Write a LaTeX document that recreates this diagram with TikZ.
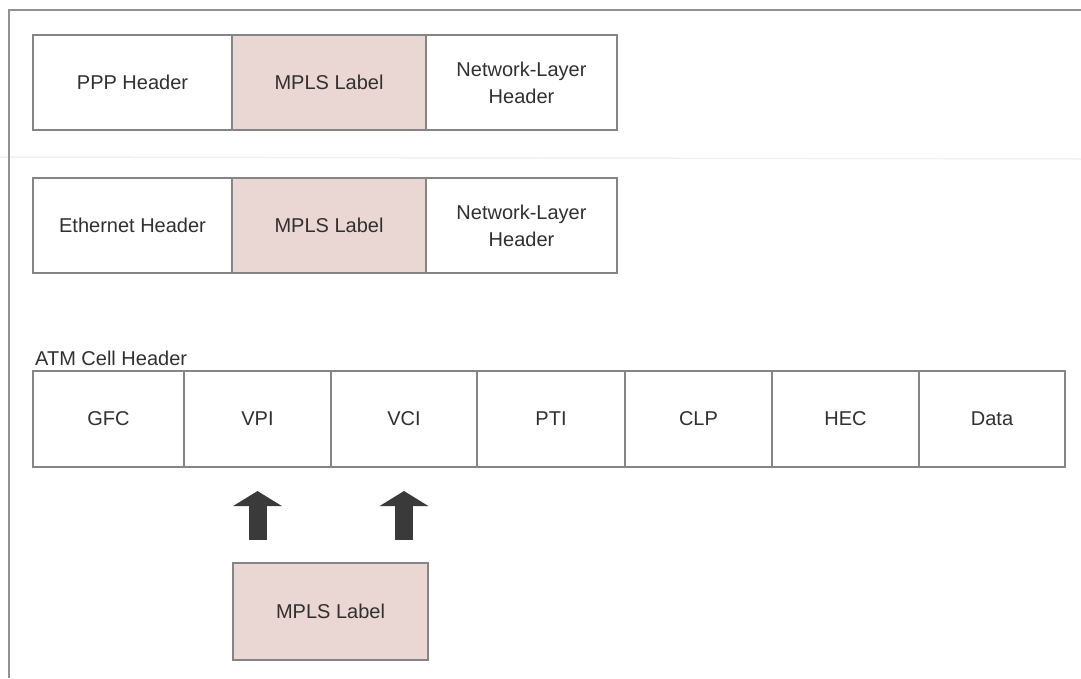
\documentclass[tikz,border=0pt]{standalone}
\usepackage{fontspec}
\setmainfont{Liberation Sans}
\usetikzlibrary{arrows.meta,positioning}
\definecolor{labelpink}{HTML}{EAD7D3}
\definecolor{edgegray}{HTML}{858585}
\definecolor{inkgray}{HTML}{303030}
\definecolor{arrowgray}{HTML}{3A3A3A}
\tikzset{
  field/.style={draw=edgegray, line width=1.1pt, fill=white, text=inkgray,
    minimum height=95pt, inner sep=0pt, outer sep=0pt, anchor=north west,
    font=\fontsize{20}{27}\selectfont, align=center},
  mpls/.style={field, fill=labelpink},
  pusharrow/.style={draw=arrowgray, line width=18pt,
    -{Triangle[length=15pt,width=48pt]}},
  frame/.style={draw=edgegray!90, line width=1.3pt}
}
\begin{document}
\begin{tikzpicture}[x=1pt,y=-1pt]
\useasboundingbox (0,0) rectangle (1081,678);
% faint crease across the sheet
\draw[gray!12, line width=1.5pt] (0,157) -- (1081,159);
% outer frame (top and left edges)
\draw[frame] (1081,10) -- (9,10) -- (9,678);

% PPP encapsulation
\node[field, minimum width=199pt] (ppp) at (33,35) {PPP Header};
\node[mpls, minimum width=194pt] (pppm) at (ppp.north east) {MPLS Label};
\node[field, minimum width=191pt] (pppn) at (pppm.north east) {Network-Layer\\Header};

% Ethernet encapsulation
\node[field, minimum width=199pt] (eth) at (33,178) {Ethernet Header};
\node[mpls, minimum width=194pt] (ethm) at (eth.north east) {MPLS Label};
\node[field, minimum width=191pt] (ethn) at (ethm.north east) {Network-Layer\\Header};

% ATM cell header
\node[anchor=base west, inner sep=0pt, text=inkgray,
  font=\fontsize{20}{27}\selectfont] (atmlbl) at (35,365) {ATM Cell Header};
\node[field, minimum width=151pt, minimum height=96pt] (gfc) at (33,371) {GFC};
\node[field, minimum width=147pt, minimum height=96pt] (vpi) at (gfc.north east) {VPI};
\node[field, minimum width=146pt, minimum height=96pt] (vci) at (vpi.north east) {VCI};
\node[field, minimum width=148pt, minimum height=96pt] (pti) at (vci.north east) {PTI};
\node[field, minimum width=147pt, minimum height=96pt] (clp) at (pti.north east) {CLP};
\node[field, minimum width=147pt, minimum height=96pt] (hec) at (clp.north east) {HEC};
\node[field, minimum width=146pt, minimum height=96pt] (data) at (hec.north east) {Data};

% label carried in VPI/VCI
\node[mpls, minimum width=195pt, minimum height=97pt] (atmm) at (233,563) {MPLS Label};
\draw[pusharrow] ([yshift=-73pt]vpi.south) -- ([yshift=-24pt]vpi.south);
\draw[pusharrow] ([yshift=-73pt]vci.south) -- ([yshift=-24pt]vci.south);
\end{tikzpicture}
\end{document}
